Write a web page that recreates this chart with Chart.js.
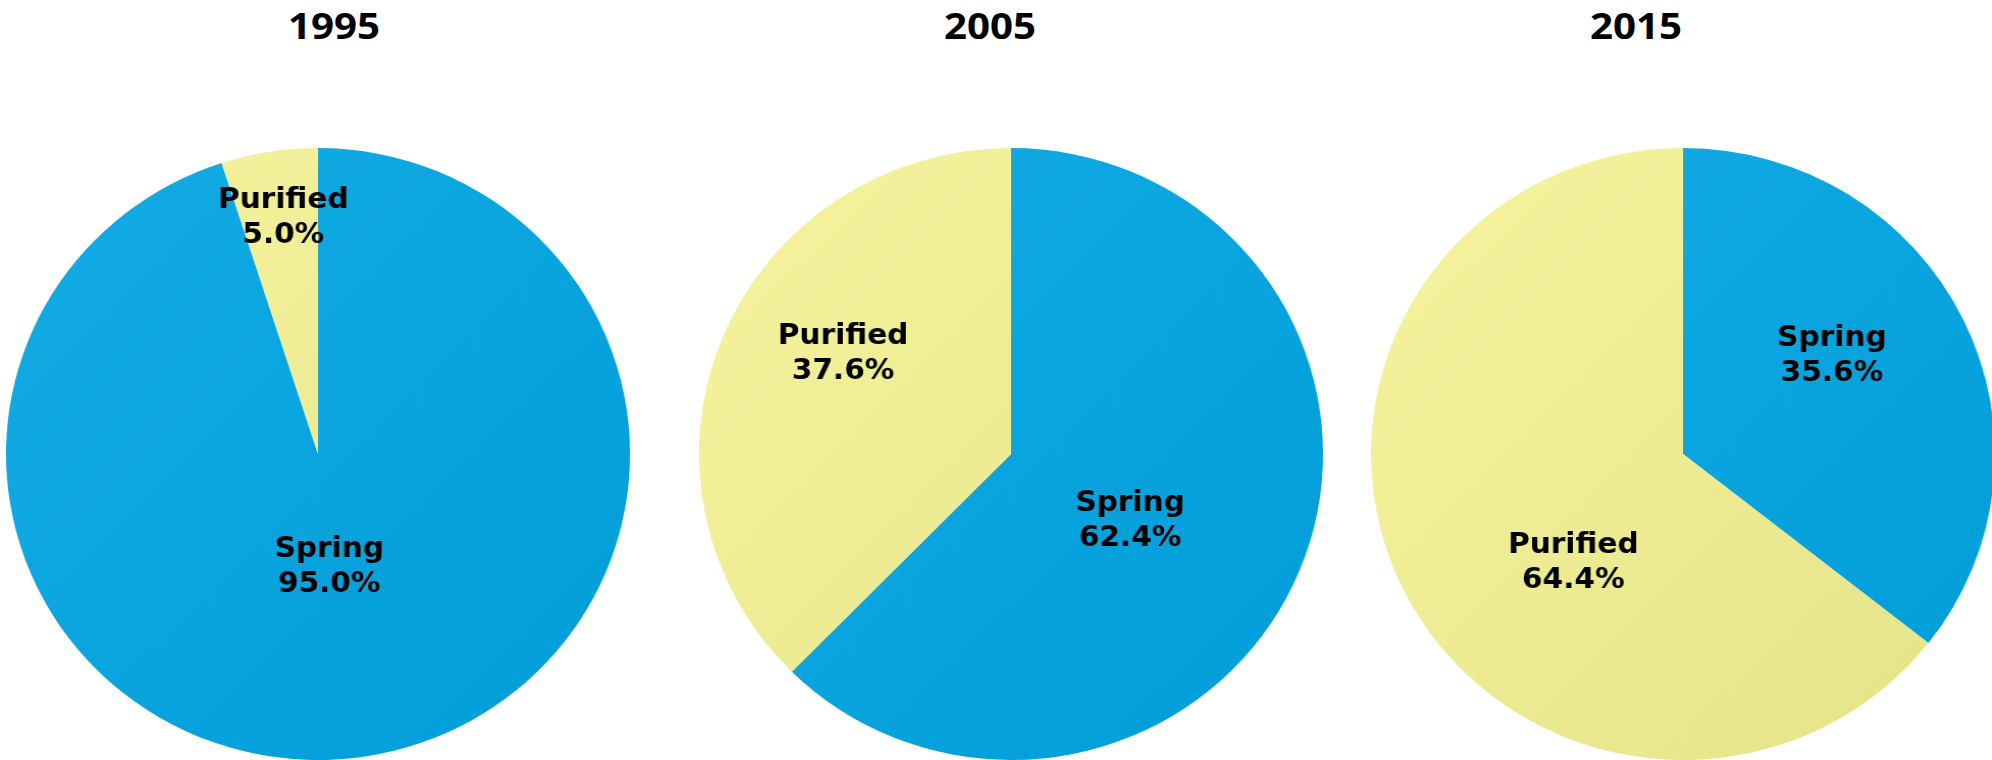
<!DOCTYPE html>
<html>
<head>
<meta charset="utf-8">
<script src="https://cdn.jsdelivr.net/npm/chart.js@4/dist/chart.umd.min.js"></script>
<style>
  html, body { margin: 0; padding: 0; background: #ffffff; }
  body { width: 1992px; height: 760px; position: relative; overflow: hidden; }
  .pie { position: absolute; }
  .year {
    position: absolute; top: 8px; width: 200px; margin-left: -100px;
    text-align: center; font: bold 35px "Open Sans", sans-serif; line-height: 35px;
    color: #000; transform: scaleX(1.15);
  }
</style>
</head>
<body>
<script>
// Bottled water market share by type
const years = ['1995', '2005', '2015'];
const categories = ['Spring', 'Purified'];
const springShare = [95.0, 62.4, 35.6];
const purifiedShare = [5.0, 37.6, 64.4];

// Layout of the three pies (centre x, shared centre y, radius, slight horizontal stretch)
const pieCenterX = [318, 1011, 1683];
const pieCenterY = 454;
const pieRadius = 306;
const pieStretchX = 1.02;
const headingX = [334, 990, 1636];

// Where each slice label sits: fraction of the radius and an angular nudge (degrees)
const labelPlacement = [
  [{ frac: 0.37, shift: 3.4 }, { frac: 0.78, shift: 0.8 }],
  [{ frac: 0.44, shift: 7.5 }, { frac: 0.63, shift: 9 }],
  [{ frac: 0.575, shift: -8 }, { frac: 0.50, shift: -19.4 }]
];

// Soft diagonal shading for each category: lighter top-left, deeper bottom-right
const sliceStops = [['#14ace5', '#009dd8'], ['#f6f49f', '#e4e387']];

function sliceFill(ctx) {
  const stops = sliceStops[ctx.dataIndex] || sliceStops[0];
  const area = ctx.chart.chartArea;
  if (!area) return stops[1];
  const g = ctx.chart.ctx.createLinearGradient(area.left, area.top, area.right, area.bottom);
  g.addColorStop(0, stops[0]);
  g.addColorStop(1, stops[1]);
  return g;
}

const sliceLabels = {
  id: 'sliceLabels',
  afterDatasetsDraw(chart, args, opts) {
    const ctx = chart.ctx;
    const meta = chart.getDatasetMeta(0);
    const values = chart.data.datasets[0].data;
    ctx.save();
    ctx.font = 'bold 29px "DejaVu Sans", sans-serif';
    ctx.fillStyle = '#000';
    ctx.textAlign = 'center';
    ctx.textBaseline = 'middle';
    meta.data.forEach((arc, i) => {
      const p = arc.getProps(['x', 'y', 'startAngle', 'endAngle', 'outerRadius'], true);
      const place = opts.placement[i];
      const a = (p.startAngle + p.endAngle) / 2 + place.shift * Math.PI / 180;
      const px = p.x + Math.cos(a) * p.outerRadius * place.frac;
      const py = p.y + Math.sin(a) * p.outerRadius * place.frac;
      ctx.fillText(chart.data.labels[i], px, py - 17);
      ctx.fillText(values[i].toFixed(1) + '%', px, py + 18);
    });
    ctx.restore();
  }
};

years.forEach((year, k) => {
  const head = document.createElement('div');
  head.className = 'year';
  head.style.left = headingX[k] + 'px';
  head.textContent = year;
  document.body.appendChild(head);

  const canvas = document.createElement('canvas');
  canvas.className = 'pie';
  canvas.width = pieRadius * 2;
  canvas.height = pieRadius * 2;
  const cssW = pieRadius * 2 * pieStretchX;
  canvas.style.width = cssW + 'px';
  canvas.style.height = (pieRadius * 2) + 'px';
  canvas.style.left = (pieCenterX[k] - cssW / 2) + 'px';
  canvas.style.top = (pieCenterY - pieRadius) + 'px';
  document.body.appendChild(canvas);

  new Chart(canvas, {
    type: 'pie',
    data: {
      labels: categories,
      datasets: [{
        data: [springShare[k], purifiedShare[k]],
        backgroundColor: sliceFill,
        borderWidth: 0,
        hoverOffset: 0
      }]
    },
    options: {
      responsive: false,
      animation: false,
      events: [],
      layout: { padding: 0 },
      plugins: {
        legend: { display: false },
        tooltip: { enabled: false },
        title: { display: false },
        sliceLabels: { placement: labelPlacement[k] }
      }
    },
    plugins: [sliceLabels]
  });
});
</script>
</body>
</html>
